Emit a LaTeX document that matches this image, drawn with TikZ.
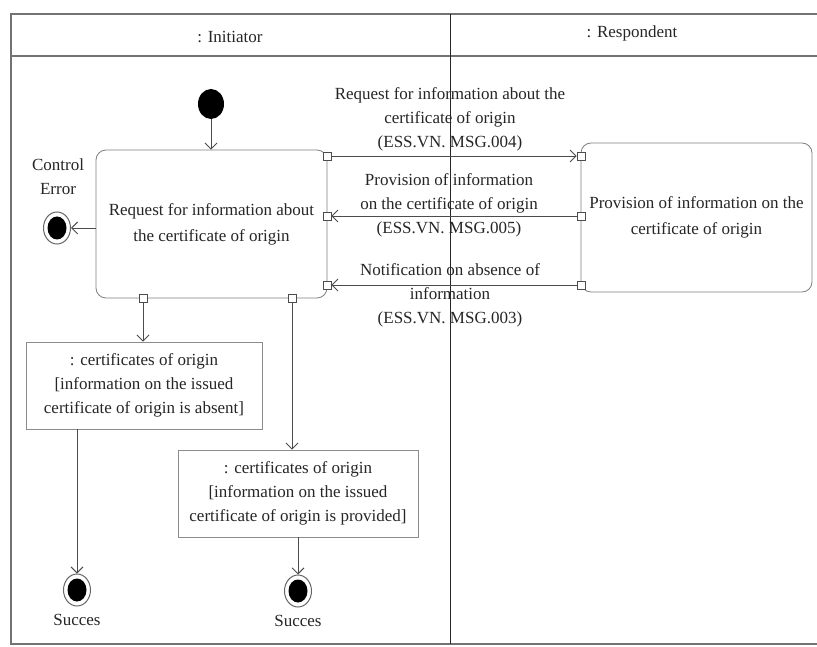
\documentclass[tikz,border=0pt]{standalone}
\usepackage{fontspec}
\setmainfont{Liberation Serif}
\usetikzlibrary{arrows.meta,shapes.geometric}
\begin{document}
\begin{tikzpicture}[x=1pt,y=-1pt,
  every node/.style={font=\fontsize{17}{24}\selectfont, text=black!85},
  act/.style={draw=black!50, rounded corners=10pt, minimum width=231pt, align=center, line width=0.8pt, inner sep=0pt},
  obj/.style={draw=black!45, align=center, inner sep=0pt, line width=0.8pt, minimum height=87pt},
  pinbox/.style={draw=black!70, fill=white, minimum size=8pt, inner sep=0pt, line width=0.7pt},
  flow/.style={draw=black!70, line width=0.9pt, -{Straight Barb[length=6pt,width=12pt]}},
  initnode/.style={ellipse, fill=black, minimum width=26pt, minimum height=30pt, inner sep=0pt},
  finalnode/.style={ellipse, draw=black!60, line width=1pt, minimum width=27pt, minimum height=32pt, inner sep=0pt,
    path picture={\fill[black] (path picture bounding box.center) ellipse (9.5pt and 11.5pt);}},
  lbl/.style={align=center},
  lane/.style={draw=black!55, line width=1.2pt},
  divider/.style={draw=black!85, line width=1pt}
]
\useasboundingbox (0,0) rectangle (817,647);
\fill[white] (0,0) rectangle (817,647);

% swimlanes
\draw[lane] (817,14) -- (11,14) -- (11,644) -- (817,644);
\draw[lane] (11,56) -- (817,56);
\draw[divider] (450,14) -- (450,644);
\node (h1) at (230,37) {: Initiator};
\node (h2) at (632,33) {: Respondent};

% activities
\node[act, minimum height=148pt, font=\fontsize{17}{26}\selectfont] (req) at (211.5,224) {Request for information about\\the certificate of origin};
\node[act, minimum height=149pt, font=\fontsize{17}{26}\selectfont] (resp) at (696.5,217.5) {Provision of information on the\\certificate of origin};

% pins
\node[pinbox] (p1) at (327,156) {};
\node[pinbox] (p2) at (327,216) {};
\node[pinbox] (p3) at (327,285) {};
\node[pinbox] (p4) at (143,298) {};
\node[pinbox] (p5) at (292,298) {};
\node[pinbox] (q1) at (581,156) {};
\node[pinbox] (q2) at (581,216) {};
\node[pinbox] (q3) at (581,285) {};

% initial and final nodes
\node[initnode] (init) at (211,104) {};
\node[finalnode] (ce) at (57,228) {};
\node[lbl] (cel) at (58,177) {Control\\Error};
\node[finalnode] (f1) at (77,590) {};
\node (f1l) at (77,620) {Succes};
\node[finalnode] (f2) at (298,591) {};
\node (f2l) at (298,621) {Succes};

% object nodes
\node[obj, minimum width=236pt] (ob1) at (144,385.5) {: certificates of origin\\{[information on the issued}\\{certificate of origin is absent]}};
\node[obj, minimum width=240pt] (ob2) at (298,493.5) {: certificates of origin\\{[information on the issued}\\{certificate of origin is provided]}};

% message labels
\node[lbl] (m1) at (450,119.5) {Request for information about the\\certificate of origin\\(ESS.VN. MSG.004)};
\node[lbl] (m2) at (449,205.5) {Provision of information\\on the certificate of origin\\(ESS.VN. MSG.005)};
\node[lbl] (m3) at (450,295) {Notification on absence of\\information\\(ESS.VN. MSG.003)};

% flows
\draw[flow] (init.south) -- (init.south |- req.north);
\draw[flow] (req.west |- ce) -- (ce.east);
\draw[flow] (p1.east) -- (q1.west);
\draw[flow] (q2.west) -- (p2.east);
\draw[flow] (q3.west) -- (p3.east);
\draw[flow] (p4.south) -- (p4.south |- ob1.north);
\draw[flow] (p5.south) -- (p5.south |- ob2.north);
\draw[flow] (f1 |- ob1.south) -- (f1.north);
\draw[flow] (ob2.south) -- (f2.north);
\end{tikzpicture}
\end{document}
